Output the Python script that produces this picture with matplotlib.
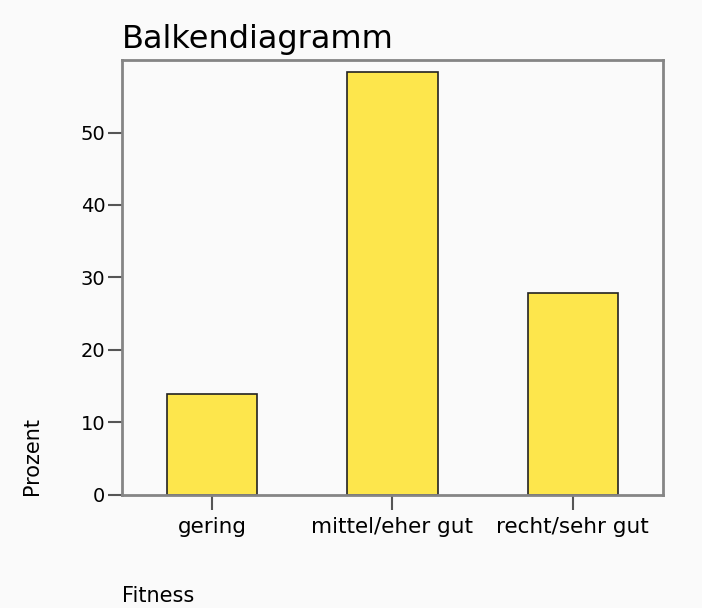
import matplotlib
matplotlib.use("Agg")
import matplotlib.pyplot as plt

categories = ["gering", "mittel/eher gut", "recht/sehr gut"]
prozent = [13.9, 58.3, 27.8]
yticks = [0, 10, 20, 30, 40, 50]

plt.rcParams['font.family'] = ['DejaVu Sans']
bg = "#fafafa"
fig = plt.figure(figsize=(7.02, 6.08), dpi=100, facecolor=bg)
ax = fig.add_axes([0.1738, 0.1859, 0.7706, 0.7154])
ax.set_facecolor(bg)

x = list(range(len(categories)))
ax.bar(x, prozent, width=0.5, color="#fde64c", edgecolor="#222222", linewidth=1.2, zorder=2)

ax.set_xlim(-0.5, len(categories) - 0.5)
ax.set_ylim(0, 60)
ax.set_yticks(yticks)
ax.set_xticks(x)
ax.set_xticklabels(categories)

for s in ax.spines.values():
    s.set_color("#858585")
    s.set_linewidth(2)

ax.tick_params(axis="y", length=10, width=1.5, color="#555555", labelsize=14, pad=2)
ax.tick_params(axis="x", length=11, width=1.5, color="#555555", labelsize=15.5, pad=4.5)

ax.set_title("Balkendiagramm", loc="left", fontsize=23, pad=9)
fig.text(0.045, 0.1859, "Prozent", rotation=90, ha="center", va="bottom", fontsize=15)
fig.text(0.1738, 0.01, "Fitness", ha="left", va="baseline", fontsize=15)

fig.savefig("out.png", dpi=100, facecolor=bg)
